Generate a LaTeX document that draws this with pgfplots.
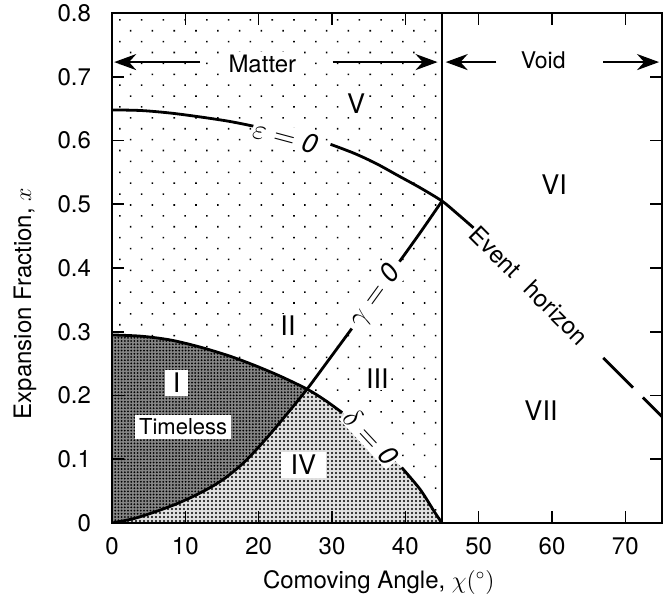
\documentclass[border=0pt]{standalone}
\usepackage{fontspec}
\setmainfont{TeX Gyre Heros}
\usepackage{pgfplots}
\pgfplotsset{compat=1.18}
\usetikzlibrary{patterns.meta,arrows.meta,calc}

\newcommand{\fs}[1]{\fontsize{#1}{#1}\selectfont}

\begin{document}
\begin{tikzpicture}
\begin{axis}[
  scale only axis,
  width=275pt, height=255pt,
  xmin=0, xmax=75, ymin=0, ymax=0.8,
  xtick={0,10,20,30,40,50,60,70},
  ytick={0,0.1,0.2,0.3,0.4,0.5,0.6,0.7,0.8},
  tick align=inside,
  major tick length=6pt,
  axis line style={line width=1.2pt},
  tick style={line width=0.8pt, black},
  ticklabel style={font=\fs{12}},
  /pgf/number format/assume math mode=true,
  yticklabel style={/pgf/number format/fixed, /pgf/number format/precision=1, xshift=-7pt},
  xticklabel style={yshift=-3.5pt},
  xlabel={Comoving Angle, $\chi(^\circ)$},
  ylabel={Expansion Fraction, $x$},
  label style={font=\fs{12}},
  xlabel style={at={(axis description cs:0.485,0)}, anchor=center, yshift=-29.5pt},
  ylabel style={at={(axis description cs:-0.158,0.43)}, anchor=center},
  axis on top,
  curve/.style={line width=1.4pt, black, smooth},
]

% matter region, sparse dots
\addplot[draw=none, pattern={Dots[distance=7.7pt, angle=45, radius=0.55pt]}, pattern color=black]
  coordinates {(0,0) (45,0) (45,0.8) (0,0.8)};

% region I (timeless)
\addplot[draw=none, fill=black!48, postaction={pattern={Dots[distance=1.6pt, radius=0.5pt]}, pattern color=black}]
  coordinates {(0,0.295) (4,0.293) (8,0.287) (12,0.276) (16,0.262) (19.5,0.247) (23,0.23) (26.6,0.21)
               (24,0.173) (21,0.132) (18,0.095) (15,0.067) (12,0.047) (9,0.031) (6,0.018) (3,0.007) (0,0)};

% region IV
\addplot[draw=none, fill=black!12, postaction={pattern={Dots[distance=2pt, radius=0.6pt]}, pattern color=black}]
  coordinates {(0,0) (3,0.007) (6,0.018) (9,0.031) (12,0.047) (15,0.067) (18,0.095) (21,0.132) (24,0.173) (26.6,0.21)
               (29,0.193) (31.4,0.173) (34,0.148) (36.5,0.122) (39.5,0.087) (42,0.053) (44,0.017) (45,0)};

% matter / void boundary
\addplot[line width=1.2pt] coordinates {(45,0) (45,0.8)};

% delta = 0
\addplot[curve] coordinates {(0,0.295) (4,0.293) (8,0.287) (12,0.276) (16,0.262) (19.5,0.247) (23,0.23) (26.6,0.21) (29,0.193) (31.4,0.173)};
\addplot[curve] coordinates {(39.5,0.087) (42,0.053) (44,0.017) (45,0)};

% gamma = 0
\addplot[curve] coordinates {(0,0) (3,0.007) (6,0.018) (9,0.031) (12,0.047) (15,0.067) (18,0.095) (21,0.132) (24,0.173) (26.6,0.21) (29.5,0.255) (32.7,0.305)};
\addplot[curve] coordinates {(39.2,0.41) (42,0.455) (45,0.505)};

% epsilon = 0 and event horizon
\addplot[curve] coordinates {(0,0.648) (4,0.647) (8,0.643) (12,0.637) (16,0.63) (19.5,0.622)};
\addplot[curve] coordinates {(29.8,0.594) (33,0.58) (36,0.564) (39,0.545) (42,0.526) (45,0.505) (47,0.486) (49.3,0.463)};
\addplot[line width=1.4pt, dash pattern=on 21pt off 7pt] coordinates {(67,0.259) (75,0.167)};

% arrows
\addplot[line width=1.3pt, -{Stealth[length=11pt, width=8pt]}] coordinates {(12,0.723) (0.3,0.723)};
\addplot[line width=1.3pt, -{Stealth[length=11pt, width=8pt]}] coordinates {(30.1,0.723) (44.4,0.723)};
\addplot[line width=1.3pt, -{Stealth[length=11pt, width=8pt]}] coordinates {(52.4,0.723) (45.5,0.723)};
\addplot[line width=1.3pt, -{Stealth[length=11pt, width=8pt]}] coordinates {(67,0.723) (74.6,0.723)};

% labels
\node[font=\fs{12}, fill=white, inner sep=1.5pt] at (axis cs:20.5,0.72) {Matter};
\node[font=\fs{11.5}] at (axis cs:58.8,0.726) {Void};

\node[font=\fs{13.5}, fill=white, inner sep=1pt] at (axis cs:33.3,0.658) {V};
\node[font=\fs{13.5}] at (axis cs:60.3,0.53) {VI};
\node[font=\fs{13.5}] at (axis cs:58.5,0.177) {VII};
\node[font=\fs{13.5}, fill=white, inner sep=1pt] at (axis cs:24,0.31) {II};
\node[font=\fs{13.5}, fill=white, inner sep=1pt] at (axis cs:36.2,0.227) {III};
\node[font=\fs{13.5}, fill=white, inner xsep=4pt, inner ysep=1.5pt] at (axis cs:8.8,0.22) {I};
\node[font=\fs{11}, fill=white, inner xsep=2pt, inner ysep=2pt] at (axis cs:9.7,0.151) {Timeless};
\node[font=\fs{13.5}, fill=white, inner xsep=5pt, inner ysep=1.5pt] at (axis cs:26.1,0.091) {IV};

\node[font=\fs{13.5}, fill=white, inner sep=0.5pt, rotate=-15] at (axis cs:23.7,0.606) {$\varepsilon=\mathit{0}$};
\node[font=\fs{13.5}, fill=white, inner sep=0.5pt, rotate=54] at (axis cs:35.9,0.356) {$\gamma=\mathit{0}$};
\node[font=\fs{13.5}, fill=white, inner sep=0.5pt, rotate=-47] at (axis cs:35.3,0.135) {$\delta=\mathit{0}$};
\node[font=\fs{12}, rotate=-45] at (axis cs:52.3,0.425) {Event};
\node[font=\fs{12}, rotate=-45] at (axis cs:60.6,0.330) {horizon};
\end{axis}
\pgfresetboundingbox
\path ($(current axis.south west)+(-56pt,-37pt)$) rectangle ($(current axis.north east)+(4pt,6.5pt)$);
\end{tikzpicture}
\end{document}
